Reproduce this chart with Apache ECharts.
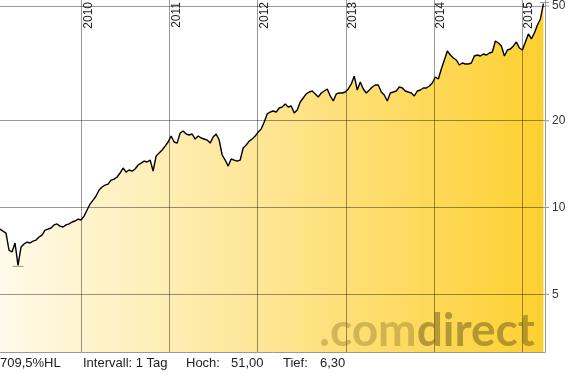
<!DOCTYPE html>
<html><head><meta charset="utf-8">
<script src="https://cdn.jsdelivr.net/npm/echarts@6/dist/echarts.min.js"></script>
<style>html,body{margin:0;padding:0;background:#fff;}#c{width:578px;height:374px;}</style>
</head><body><div id="c"></div>
<script>
// ---- data ----
const startDate = [2009, 0, 28];
const stepDays = 12.45;
const prices = [
  8.42, 8.28, 8.15, 7.12, 7.01, 7.53, 6.30, 7.29, 7.47, 7.59,
  7.53, 7.65, 7.71, 7.90, 8.02, 8.35, 8.42, 8.49, 8.70, 8.77,
  8.62, 8.56, 8.70, 8.77, 8.91, 8.98, 9.12, 9.05, 9.34, 9.80,
  10.28, 10.61, 10.96, 11.50, 11.78, 11.96, 12.06, 12.45, 12.55, 12.76,
  13.17, 13.71, 13.27, 13.49, 13.38, 13.60, 14.04, 14.26, 14.49, 14.38,
  14.61, 13.38, 15.09, 15.45, 15.83, 16.33, 16.87, 17.70, 16.87, 16.73,
  18.13, 18.42, 17.99, 17.85, 17.99, 17.28, 17.70, 17.42, 17.28, 17.14,
  16.73, 17.56, 17.99, 17.14, 15.21, 14.61, 13.92, 14.73, 14.61, 14.49,
  14.61, 16.09, 16.47, 17.00, 17.28, 17.70, 18.27, 18.72, 19.79, 21.11,
  21.44, 21.61, 21.44, 22.14, 22.32, 22.87, 22.32, 22.50, 21.26, 21.78,
  23.22, 23.98, 24.77, 25.15, 25.36, 24.77, 24.18, 24.96, 25.36, 25.77,
  24.37, 23.41, 24.77, 24.96, 24.96, 25.15, 25.77, 26.82, 28.57, 25.56,
  27.24, 25.77, 24.96, 25.56, 26.19, 26.61, 26.61, 25.15, 24.57, 23.41,
  24.96, 25.15, 25.36, 26.19, 25.98, 25.36, 25.15, 24.96, 24.37, 25.36,
  25.56, 25.98, 25.98, 26.40, 27.02, 28.36, 27.90, 30.23, 32.48, 34.90,
  33.81, 33.01, 32.48, 31.21, 31.71, 31.46, 31.46, 31.71, 33.53, 33.81,
  33.53, 34.08, 33.81, 34.35, 34.63, 37.81, 37.20, 36.34, 33.53, 35.18,
  35.46, 36.34, 37.50, 35.75, 35.18, 37.50, 40.00, 38.42, 40.33, 42.97,
  45.07, 51.00
];
const yearLabels = [2010, 2011, 2012, 2013, 2014, 2015];
const priceTicks = [5, 10, 20, 50];
const xStart = [2009, 0, 28];
const xEnd = [2015, 3, 7];
const yMin = 3.154;
const yMax = 52.45;
const footerLabels = ['Intervall: 1 Tag', 'Hoch:', 'Tief:'];

// ---- build ----
const DAY = 86400000;
const t0 = +new Date(startDate[0], startDate[1], startDate[2]);
const seriesData = prices.map((v, i) => [t0 + i * stepDays * DAY, v]);
const hi = Math.max(...prices), lo = Math.min(...prices);
const fmt = (n, d) => n.toFixed(d).replace('.', ',');

const gridColor = 'rgba(0,0,0,0.4)';
const markData = [];
yearLabels.forEach(y => markData.push({
  xAxis: +new Date(y, 0, 1), name: String(y),
  label: { show: true, position: 'insideEndBottom', formatter: '{b}', distance: [2, 1],
    color: '#222', fontSize: 12, fontFamily: 'Liberation Sans, Arial, sans-serif' }
}));
priceTicks.forEach(p => markData.push({
  yAxis: p, name: String(p),
  label: { show: true, position: 'end', distance: 0,
    formatter: '{t|}{v|' + p + '}',
    rich: {
      t: { width: 4, height: 1, backgroundColor: '#999' },
      v: { padding: [0, 0, 0, 3], fontSize: 12, color: '#333', fontFamily: 'Liberation Sans, Arial, sans-serif' }
    } }
}));

const chart = echarts.init(document.getElementById('c'), null, { renderer: 'canvas' });
const footFont = '13px "Liberation Sans", Arial, sans-serif';
const footY = 363;
const wmFont = 'bold 46px Lato, "Open Sans", sans-serif';
chart.setOption({
  animation: false,
  backgroundColor: '#fff',
  grid: { left: 0, right: 33, top: 0, bottom: 22, containLabel: false },
  xAxis: {
    type: 'time',
    min: +new Date(xStart[0], xStart[1], xStart[2]),
    max: +new Date(xEnd[0], xEnd[1], xEnd[2]),
    axisLine: { show: true, lineStyle: { color: '#999', width: 1 } },
    axisTick: { show: false }, axisLabel: { show: false }, splitLine: { show: false }
  },
  yAxis: {
    type: 'log', logBase: 10, position: 'right', min: yMin, max: yMax,
    axisLine: { show: true, lineStyle: { color: '#999', width: 1 } },
    axisTick: { show: false }, axisLabel: { show: false }, splitLine: { show: false }, minorSplitLine: { show: false }
  },
  series: [{
    type: 'line',
    data: seriesData,
    showSymbol: false,
    symbol: 'none',
    lineStyle: { color: '#000', width: 1.4 },
    areaStyle: {
      origin: 'start', opacity: 1,
      color: new echarts.graphic.LinearGradient(0, 0, 1, 0, [
        { offset: 0, color: '#fffaea' },
        { offset: 0.5, color: '#fee591' },
        { offset: 1, color: '#fdd030' }
      ])
    },
    markLine: {
      silent: true, symbol: 'none',
      lineStyle: { color: gridColor, width: 1, type: 'solid' },
      emphasis: { disabled: true },
      data: markData
    },
    markPoint: {
      silent: true, symbol: 'rect', symbolSize: [11, 1],
      itemStyle: { color: '#999' }, label: { show: false },
      data: [{ type: 'min', symbolOffset: [0, 1] }, { type: 'max', symbolSize: [9, 1], symbolOffset: [1, -1] }]
    }
  }],
  graphic: [
    { type: 'text', x: 319, y: 331, silent: true, z: 10,
      style: { text: '{a|.com}{b|direct}', verticalAlign: 'middle', font: wmFont,
        rich: {
          a: { fill: 'rgba(140,120,40,0.40)', font: wmFont },
          b: { fill: 'rgba(120,100,30,0.55)', font: wmFont }
        } } },
    { type: 'text', x: 0, y: footY, style: { text: fmt((hi / lo - 1) * 100, 1) + '%HL', font: footFont, fill: '#222', verticalAlign: 'middle' } },
    { type: 'text', x: 83, y: footY, style: { text: footerLabels[0], font: footFont, fill: '#222', verticalAlign: 'middle' } },
    { type: 'text', x: 186, y: footY, style: { text: footerLabels[1], font: footFont, fill: '#222', verticalAlign: 'middle' } },
    { type: 'text', x: 231, y: footY, style: { text: fmt(hi, 2), font: footFont, fill: '#222', verticalAlign: 'middle' } },
    { type: 'text', x: 283, y: footY, style: { text: footerLabels[2], font: footFont, fill: '#222', verticalAlign: 'middle' } },
    { type: 'text', x: 320, y: footY, style: { text: fmt(lo, 2), font: footFont, fill: '#222', verticalAlign: 'middle' } }
  ]
});
</script></body></html>
